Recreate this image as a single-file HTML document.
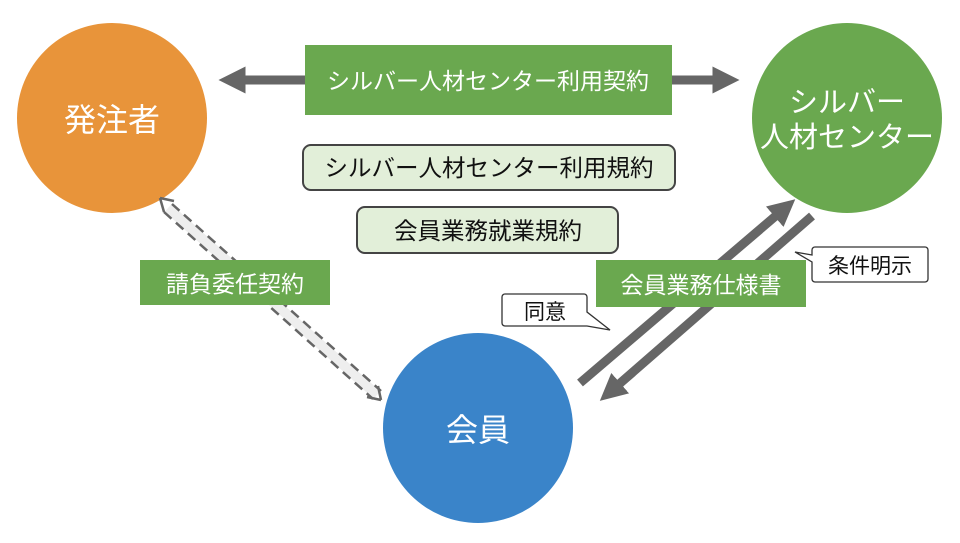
<!DOCTYPE html>
<html><head><meta charset="utf-8"><style>
body{margin:0;width:960px;height:538px;background:#fff;overflow:hidden;font-family:"Liberation Sans","Noto Sans CJK JP",sans-serif}
svg text{font-family:"Liberation Sans","Noto Sans CJK JP",sans-serif}
</style></head><body>
<svg width="960" height="538" viewBox="0 0 960 538">
<defs>
<marker id="ah" viewBox="0 0 10 10" refX="5" refY="5" markerWidth="3" markerHeight="3" orient="auto-start-reverse" markerUnits="strokeWidth"><path d="M0,0L10,5L0,10z" fill="#666"/></marker>
</defs>
<circle cx="112" cy="118" r="95" fill="#e8943a"/>
<circle cx="847" cy="118" r="95" fill="#6aa84f"/>
<circle cx="478" cy="428" r="95" fill="#3a84c9"/>
<text x="112" y="131" font-size="32" fill="#fff" text-anchor="middle">発注者</text>
<text x="847" y="112" font-size="29" fill="#fff" text-anchor="middle">シルバー</text>
<text x="847" y="147" font-size="29" fill="#fff" text-anchor="middle">人材センター</text>
<text x="478" y="441" font-size="32" fill="#fff" text-anchor="middle">会員</text>
<line x1="232" y1="80" x2="726" y2="80" stroke="#666" stroke-width="9" marker-start="url(#ah)" marker-end="url(#ah)"/>
<rect x="305" y="45" width="367" height="70" fill="#6aa84f"/>
<text x="488" y="89" font-size="23" fill="#fff" text-anchor="middle">シルバー人材センター利用契約</text>
<rect x="303" y="145" width="372" height="45" rx="8" fill="#e2efd9" stroke="#444" stroke-width="2"/>
<text x="489" y="176" font-size="23.5" fill="#111" text-anchor="middle">シルバー人材センター利用規約</text>
<rect x="357" y="207" width="261" height="46" rx="8" fill="#e2efd9" stroke="#444" stroke-width="2"/>
<text x="488" y="239" font-size="23.5" fill="#111" text-anchor="middle">会員業務就業規約</text>
<line x1="168" y1="208" x2="377" y2="395" stroke="#eee" stroke-width="10"/>
<line x1="172" y1="204" x2="381" y2="391" stroke="#666" stroke-width="2.5" stroke-dasharray="10,6"/>
<line x1="164" y1="212" x2="373" y2="399" stroke="#666" stroke-width="2.5" stroke-dasharray="10,6"/>
<path d="M160,198 l4,14 M160,198 l14,3" stroke="#666" stroke-width="2.5" fill="none"/>
<path d="M381,400 l-3,-14 M381,400 l-14,-3" stroke="#666" stroke-width="2.5" fill="none"/>
<rect x="140" y="260" width="190" height="45" fill="#6aa84f"/>
<text x="235" y="292" font-size="23" fill="#fff" text-anchor="middle">請負委任契約</text>
<line x1="580" y1="383" x2="785" y2="208" stroke="#666" stroke-width="9" marker-end="url(#ah)"/>
<line x1="812" y1="216" x2="610" y2="392" stroke="#666" stroke-width="9" marker-end="url(#ah)"/>
<rect x="596" y="260" width="210" height="47" fill="#6aa84f"/>
<text x="701" y="293" font-size="23" fill="#fff" text-anchor="middle">会員業務仕様書</text>
<path d="M505,294 H584 a3,3 0 0 1 3,3 V312 L610,330 L587,326 H505 a3,3 0 0 1 -3,-3 V297 a3,3 0 0 1 3,-3z" fill="#fff" stroke="#333" stroke-width="1.3"/>
<text x="545" y="319" font-size="21" fill="#111" text-anchor="middle">同意</text>
<path d="M815,247 H925 a3,3 0 0 1 3,3 V279 a3,3 0 0 1 -3,3 H815 a3,3 0 0 1 -3,-3 V262 L795,252 L812,255 V250 a3,3 0 0 1 3,-3z" fill="#fff" stroke="#333" stroke-width="1.3"/>
<text x="870" y="273" font-size="21" fill="#111" text-anchor="middle">条件明示</text>
</svg>
</body></html>
